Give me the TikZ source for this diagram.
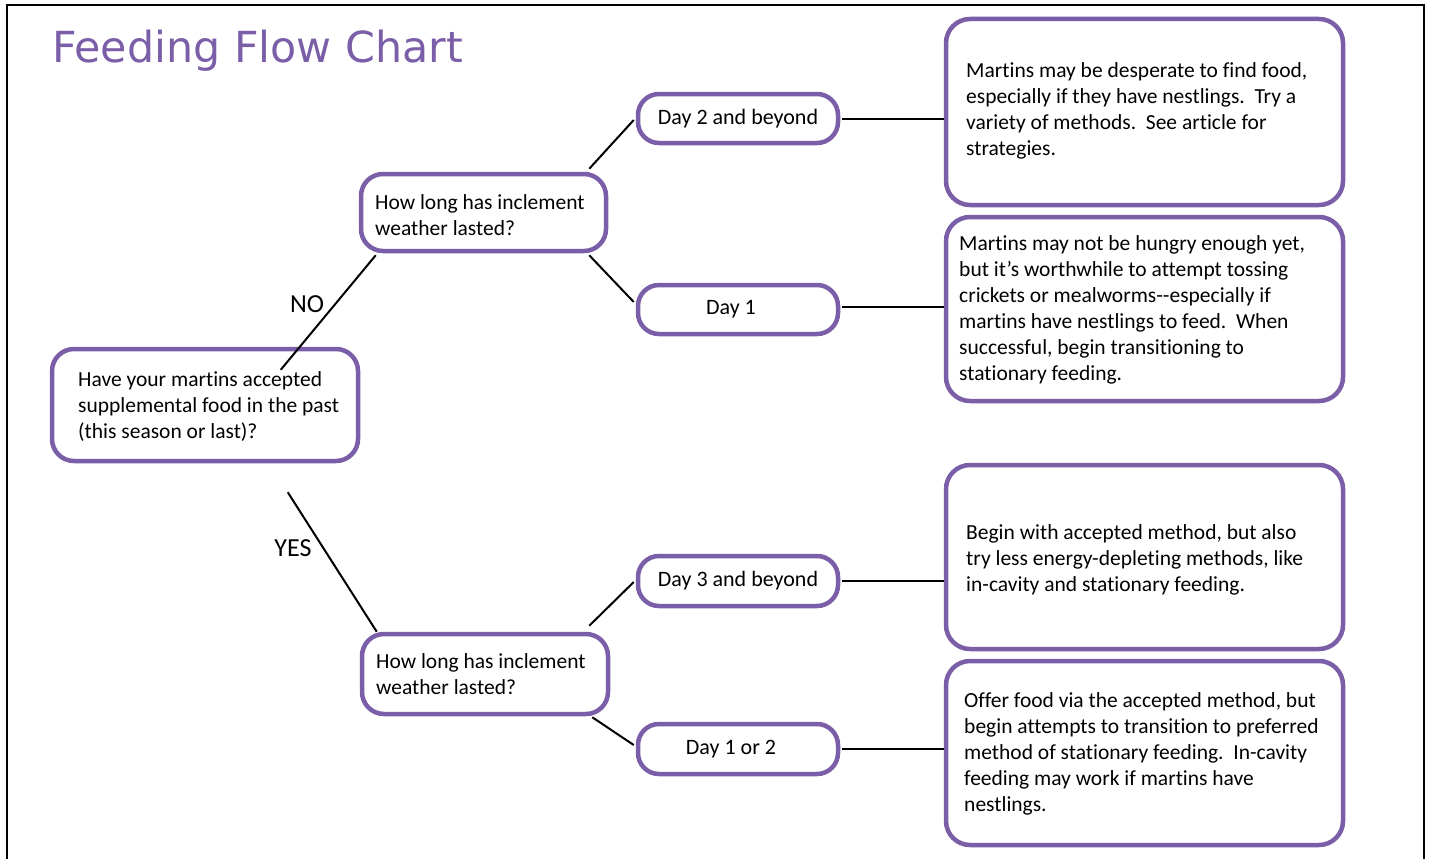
\documentclass[tikz,border=0pt]{standalone}
\usepackage{fontspec}
\setmainfont{Carlito}[Ligatures={NoCommon}]
\newfontfamily\titlefont{DejaVu Sans}
\usetikzlibrary{calc}
\definecolor{fpurple}{HTML}{7B5EA8}
\begin{document}
\begin{tikzpicture}[x=1pt,y=-1pt,
  box/.style={draw=fpurple, line width=4.5pt, rounded corners=24pt, fill=white, inner sep=0pt},
  qbox/.style={box, rounded corners=22pt},
  daybox/.style={box, rounded corners=21pt, font=\fontsize{22}{26}\selectfont},
  txt/.style={anchor=west, align=left, font=\fontsize{21.5}{26}\selectfont, inner sep=0pt},
  lbl/.style={font=\fontsize{26}{30}\selectfont, inner sep=0pt},
  link/.style={draw=black, line width=2pt}]
\useasboundingbox (0,0) rectangle (1429,859);
% frame
\draw[line width=2.5pt] (7,859) -- (7,5) -- (1424,5) -- (1424,859);
% title
\node[anchor=base west, inner sep=0pt, text=fpurple, font=\titlefont\fontsize{42.8}{48}\selectfont] (title) at (52,63) {Feeding Flow Chart};
% question boxes
\node[qbox, minimum width=306pt, minimum height=112pt] (Q1) at (205,405) {};
\node[qbox, minimum width=245pt, minimum height=77pt] (Q2) at (483.5,212.5) {};
\node[qbox, minimum width=246pt, minimum height=80pt] (Q3) at (485,674) {};
% day boxes
\node[daybox, minimum width=200pt, minimum height=49pt] (D2) at (738,118.5) {Day 2 and beyond};
\node[daybox, minimum width=200pt, minimum height=49pt] (D1) at (738,309.5) {\hspace*{-14pt}Day 1};
\node[daybox, minimum width=200pt, minimum height=50pt] (D3) at (738,581) {Day 3 and beyond};
\node[daybox, minimum width=200pt, minimum height=50pt] (D12) at (738,749) {\hspace*{-14pt}Day 1 or 2};
% result boxes
\node[box, minimum width=397pt, minimum height=186pt] (R1) at (1144.5,112) {};
\node[box, minimum width=397pt, minimum height=184pt] (R2) at (1144.5,309) {};
\node[box, minimum width=397pt, minimum height=184pt] (R3) at (1144.5,557) {};
\node[box, minimum width=397pt, minimum height=184pt] (R4) at (1144.5,753) {};
% texts
\node[txt] (Q1t) at (78,407) {Have your martins accepted\\supplemental food in the past\\(this season or last)?};
\node[txt] (Q2t) at (375,215.5) {How long has inclement\\weather lasted?};
\node[txt] (Q3t) at (376,674) {How long has inclement\\weather lasted?};
\node[txt] (R1t) at (966,111) {Martins may be desperate to find food,\\especially if they have nestlings.\ \ Try a\\variety of methods.\ \ See article for\\strategies.};
\node[txt] (R2t) at (959,310) {Martins may not be hungry enough yet,\\but it’s worthwhile to attempt tossing\\crickets or mealworms-{}-especially if\\martins have nestlings to feed.\ \ When\\successful, begin transitioning to\\stationary feeding.};
\node[txt] (R3t) at (966,559.5) {Begin with accepted method, but also\\try less energy-depleting methods, like\\in-cavity and stationary feeding.};
\node[txt] (R4t) at (964,753.5) {Offer food via the accepted method, but\\begin attempts to transition to preferred\\method of stationary feeding.\ \ In-cavity\\feeding may work if martins have\\nestlings.};
% labels
\node[lbl] (no) at (307,304) {NO};
\node[lbl] (yes) at (293,548) {YES};
% connectors
\draw[link] ($(Q2.south west)+(17,2)$) -- ($(Q1.north west)+(231,23)$);
\draw[link] ($(Q1.south west)+(238,29)$) -- ($(Q3.north west)+(17,0)$);
\draw[link] ($(Q2.north east)+(-19,-3)$) -- ($(D2.west)+(-2,1.5)$);
\draw[link] ($(Q2.south east)+(-19,2)$) -- ($(D1.west)+(-2,-7.5)$);
\draw[link] ($(Q3.north east)+(-21,-6)$) -- ($(D3.west)+(-2,1)$);
\draw[link] ($(Q3.south east)+(-18,1)$) -- ($(D12.west)+(-2,-4)$);
\draw[link] ($(D2.east)+(2,0)$) -- (D2.east -| R1.west);
\draw[link] ($(D1.east)+(2,-3)$) -- ($(D1.east -| R2.west)+(0,-3)$);
\draw[link] ($(D3.east)+(2,0)$) -- (D3.east -| R3.west);
\draw[link] ($(D12.east)+(2,0)$) -- (D12.east -| R4.west);
\end{tikzpicture}
\end{document}
